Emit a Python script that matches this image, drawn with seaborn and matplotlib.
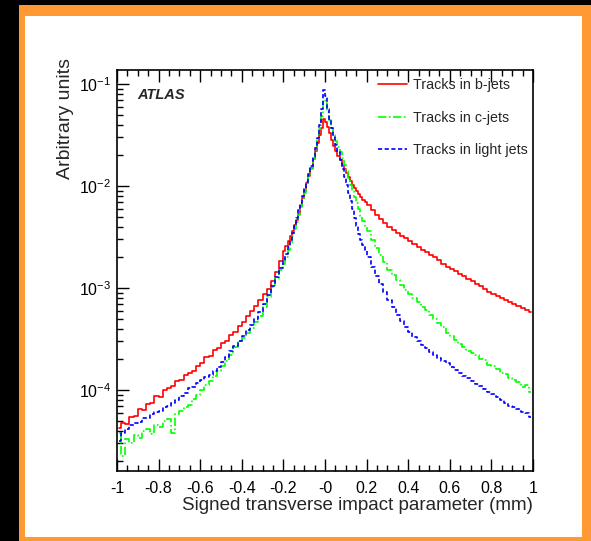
import numpy as np
import pandas as pd
import matplotlib
matplotlib.use("Agg")
import matplotlib.pyplot as plt
import seaborn as sns
from matplotlib.patches import Rectangle
from matplotlib.ticker import MultipleLocator, LogLocator, FixedLocator, FixedFormatter

# ---------------- data ----------------
# bin centres of the signed transverse impact parameter (mm):
# 0.02 mm bins in the tails, 0.01 mm bins around the peak (|d0| < 0.2)
centers_left = np.round(np.linspace(-0.99, -0.21, 40), 3)
centers_core = np.round(np.linspace(-0.195, 0.195, 40), 3)
centers_right = np.round(np.linspace(0.21, 0.99, 40), 3)
bin_centers = np.concatenate([centers_left, centers_core, centers_right])

# log10 of the normalised histogram contents (tail-left | core | tail-right)
b_jets_log10 = [
    # left tail
    -4.37, -4.32, -4.33, -4.26, -4.25, -4.19, -4.20, -4.14, -4.13, -4.06,
    -4.07, -4.00, -3.98, -3.96, -3.91, -3.90, -3.85, -3.83, -3.81, -3.76,
    -3.74, -3.68, -3.67, -3.61, -3.59, -3.54, -3.52, -3.46, -3.43, -3.37,
    -3.33, -3.27, -3.23, -3.18, -3.12, -3.06, -3.01, -2.93, -2.84, -2.74,
    # core
    -2.64, -2.59, -2.54, -2.49, -2.44, -2.38, -2.33, -2.27, -2.20, -2.12,
    -2.05, -1.97, -1.90, -1.82, -1.74, -1.66, -1.58, -1.50, -1.43, -1.34,
    -1.37, -1.42, -1.48, -1.55, -1.61, -1.66, -1.71, -1.75, -1.79, -1.83,
    -1.87, -1.91, -1.95, -1.99, -2.02, -2.05, -2.08, -2.11, -2.14, -2.16,
    # right tail
    -2.19, -2.24, -2.28, -2.32, -2.36, -2.40, -2.43, -2.46, -2.49, -2.51,
    -2.54, -2.57, -2.60, -2.63, -2.65, -2.68, -2.70, -2.73, -2.76, -2.79,
    -2.81, -2.83, -2.86, -2.88, -2.91, -2.93, -2.96, -2.98, -3.01, -3.04,
    -3.06, -3.08, -3.10, -3.12, -3.14, -3.16, -3.18, -3.20, -3.22, -3.24,
]
c_jets_log10 = [
    # left tail
    -4.42, -4.65, -4.48, -4.52, -4.44, -4.47, -4.40, -4.38, -4.43, -4.34,
    -4.36, -4.30, -4.28, -4.42, -4.24, -4.21, -4.17, -4.15, -4.09, -4.05,
    -4.00, -3.95, -3.91, -3.86, -3.81, -3.76, -3.72, -3.66, -3.58, -3.52,
    -3.49, -3.44, -3.39, -3.33, -3.27, -3.19, -3.09, -2.99, -2.90, -2.82,
    # core
    -2.76, -2.70, -2.63, -2.56, -2.49, -2.42, -2.35, -2.28, -2.21, -2.14,
    -2.07, -1.99, -1.91, -1.83, -1.74, -1.65, -1.55, -1.44, -1.31, -1.16,
    -1.19, -1.27, -1.35, -1.43, -1.50, -1.56, -1.62, -1.67, -1.73, -1.79,
    -1.85, -1.92, -1.99, -2.05, -2.11, -2.17, -2.23, -2.29, -2.34, -2.39,
    # right tail
    -2.44, -2.53, -2.61, -2.68, -2.75, -2.82, -2.87, -2.92, -2.97, -3.02,
    -3.06, -3.10, -3.14, -3.19, -3.22, -3.26, -3.30, -3.34, -3.38, -3.44,
    -3.47, -3.51, -3.55, -3.58, -3.62, -3.64, -3.66, -3.70, -3.71, -3.75,
    -3.76, -3.79, -3.83, -3.84, -3.88, -3.90, -3.92, -3.97, -3.95, -4.02,
]
light_jets_log10 = [
    # left tail
    -4.50, -4.42, -4.38, -4.34, -4.32, -4.31, -4.27, -4.27, -4.24, -4.22,
    -4.21, -4.17, -4.16, -4.13, -4.10, -4.06, -4.03, -3.98, -3.97, -3.93,
    -3.90, -3.87, -3.85, -3.81, -3.77, -3.73, -3.68, -3.62, -3.57, -3.52,
    -3.47, -3.41, -3.36, -3.30, -3.24, -3.16, -3.07, -2.98, -2.89, -2.80,
    # core
    -2.74, -2.67, -2.60, -2.53, -2.46, -2.39, -2.31, -2.24, -2.17, -2.10,
    -2.03, -1.96, -1.88, -1.80, -1.72, -1.63, -1.53, -1.40, -1.25, -1.06,
    -1.12, -1.25, -1.35, -1.43, -1.52, -1.60, -1.67, -1.75, -1.83, -1.91,
    -1.99, -2.07, -2.15, -2.23, -2.31, -2.39, -2.47, -2.53, -2.58, -2.63,
    # right tail
    -2.70, -2.79, -2.88, -2.96, -3.04, -3.12, -3.19, -3.26, -3.32, -3.38,
    -3.43, -3.48, -3.52, -3.56, -3.59, -3.63, -3.66, -3.69, -3.72, -3.74,
    -3.77, -3.80, -3.83, -3.86, -3.88, -3.91, -3.94, -3.96, -3.99, -4.02,
    -4.04, -4.07, -4.10, -4.13, -4.16, -4.17, -4.19, -4.22, -4.23, -4.26,
]

series_labels = ["Tracks in b-jets", "Tracks in c-jets", "Tracks in light jets"]
x_tick_values = [-1, -0.8, -0.6, -0.4, -0.2, 0, 0.2, 0.4, 0.6, 0.8, 1]
x_tick_labels = ["-1", "-0.8", "-0.6", "-0.4", "-0.2", "-0", "0.2", "0.4", "0.6", "0.8", "1"]

# ---------------- style ----------------
sns.set_style("white")
plt.rcParams["font.family"] = ["Liberation Sans", "DejaVu Sans"]
plt.rcParams["mathtext.fontset"] = "custom"
plt.rcParams["mathtext.rm"] = "Liberation Sans"
plt.rcParams["mathtext.it"] = "Liberation Sans:italic"
plt.rcParams["mathtext.bf"] = "Liberation Sans:bold"

W, H = 591, 541
fig = plt.figure(figsize=(W / 100, H / 100), dpi=100, facecolor="black")

# orange frame and white panel
fig.patches.append(Rectangle((19 / W, 0), (W - 19) / W, (H - 5) / H,
                             transform=fig.transFigure, facecolor="#ff9933",
                             edgecolor="none", zorder=-10))
fig.patches.append(Rectangle((25 / W, (H - 537) / H), (582 - 25) / W, (537 - 16) / H,
                             transform=fig.transFigure, facecolor="white",
                             edgecolor="none", zorder=-9))

ax = fig.add_axes([117 / W, (H - 471) / H, (533 - 117) / W, (471 - 70) / H])
ax.set_facecolor("white")

df = pd.DataFrame({
    "x": bin_centers,
    "b": 10 ** np.array(b_jets_log10),
    "c": 10 ** np.array(c_jets_log10),
    "l": 10 ** np.array(light_jets_log10),
})

sns.lineplot(data=df, x="x", y="b", ax=ax, color="#ff0000", lw=1.2,
             drawstyle="steps-mid", label=series_labels[0])
sns.lineplot(data=df, x="x", y="c", ax=ax, color="#00ff00", lw=1.2,
             drawstyle="steps-mid", linestyle=(0, (5, 1.5, 1, 1.5)), label=series_labels[1])
sns.lineplot(data=df, x="x", y="l", ax=ax, color="#0000ff", lw=1.2,
             drawstyle="steps-mid", linestyle=(0, (2.5, 1.5)), label=series_labels[2])

ax.set_yscale("log")
ax.set_xlim(-1, 1)
ax.set_ylim(10 ** -4.794, 10 ** -0.863)

ax.xaxis.set_major_locator(FixedLocator(x_tick_values))
ax.xaxis.set_major_formatter(FixedFormatter(x_tick_labels))
ax.xaxis.set_minor_locator(MultipleLocator(0.05))
ax.yaxis.set_major_locator(LogLocator(base=10, numticks=10))
ax.yaxis.set_minor_locator(LogLocator(base=10, subs=np.arange(2, 10), numticks=20))

ax.tick_params(axis="x", which="both", direction="in", top=True, bottom=True,
               labelsize=11.5, pad=7, colors="black")
ax.tick_params(axis="y", which="both", direction="in", left=True, right=False,
               labelsize=11.5, pad=4, colors="black")
ax.tick_params(which="major", length=8.6, width=1)
ax.tick_params(which="minor", length=4.3, width=1)

for sp in ax.spines.values():
    sp.set_color("black")
    sp.set_linewidth(1.2)

ax.set_xlabel("Signed transverse impact parameter (mm)", fontsize=13.5,
              loc="right", labelpad=1)
ax.set_ylabel("Arbitrary units", fontsize=14, loc="top")
ax.yaxis.set_label_coords(-(117 - 74) / 416, 1 + (70 - 58) / 401)

ax.legend(loc="upper left", bbox_to_anchor=(378 / W, 1 - 78 / H),
          bbox_transform=fig.transFigure, frameon=False, fontsize=10.3,
          handlelength=2.0, handletextpad=0.45, labelspacing=1.3,
          borderpad=0, borderaxespad=0)

fig.text(137 / W, 1 - 95 / H, "ATLAS", fontsize=10.5, fontweight="bold",
         fontstyle="italic", ha="left", va="center")

fig.savefig("out.png", dpi=100, facecolor=fig.get_facecolor())
